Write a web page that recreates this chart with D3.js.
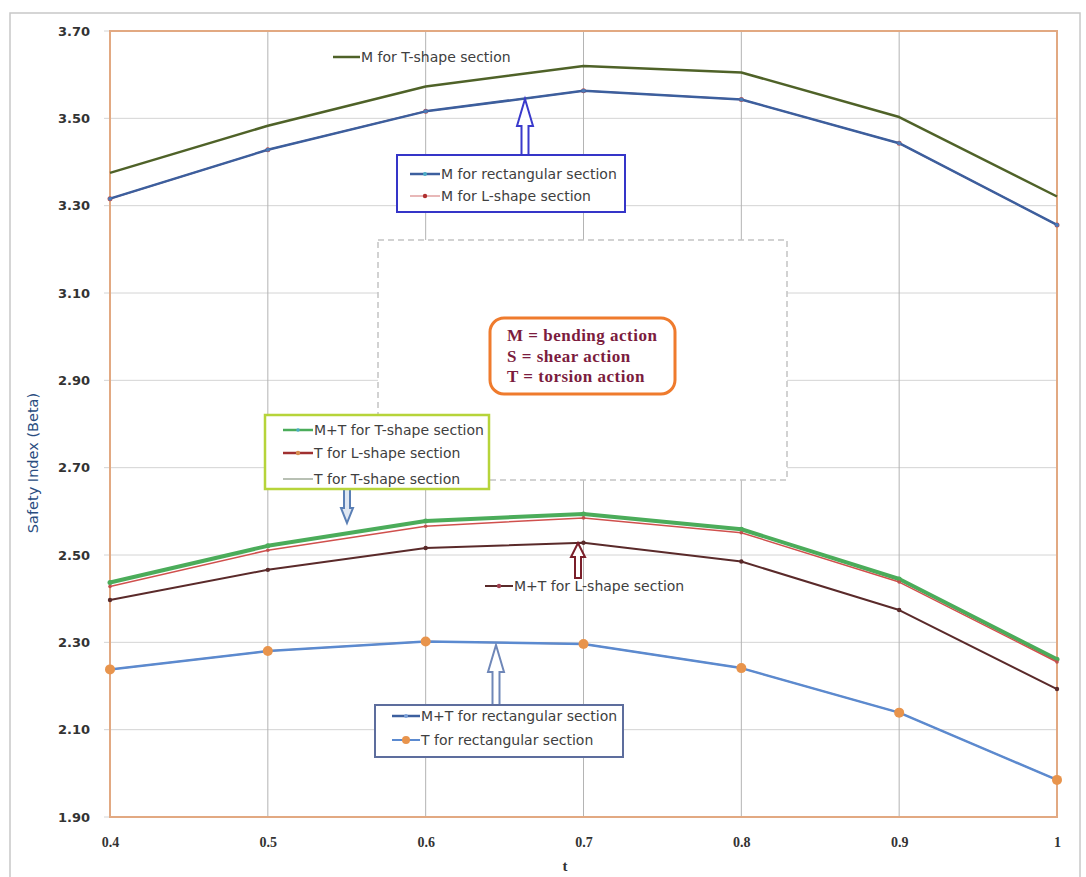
<!DOCTYPE html>
<html><head><meta charset="utf-8">
<script src="https://cdn.jsdelivr.net/npm/d3@7"></script>
<style>body{margin:0;background:#fff}svg{display:block}</style>
</head><body><svg id="c" width="1086" height="877"></svg>
<script>
const tValues = [0.4, 0.5, 0.6, 0.7, 0.8, 0.9, 1.0];
const xTickLabels = ["0.4","0.5","0.6","0.7","0.8","0.9","1"];
const yTicks = [1.9, 2.1, 2.3, 2.5, 2.7, 2.9, 3.1, 3.3, 3.5, 3.7];
const mTShape      = [3.375, 3.483, 3.573, 3.620, 3.605, 3.503, 3.321];
const mRect        = [3.316, 3.428, 3.516, 3.563, 3.543, 3.443, 3.256];
const mLShape      = [3.316, 3.428, 3.516, 3.563, 3.543, 3.443, 3.256];
const mtTShape     = [2.437, 2.521, 2.578, 2.594, 2.559, 2.445, 2.261];
const tLShape      = [2.428, 2.511, 2.566, 2.585, 2.551, 2.438, 2.255];
const tTShape      = [2.437, 2.521, 2.578, 2.594, 2.559, 2.445, 2.261];
const mtLShape     = [2.397, 2.466, 2.516, 2.528, 2.485, 2.374, 2.193];
const mtRect       = [2.238, 2.280, 2.302, 2.296, 2.241, 2.139, 1.985];
const tRect        = [2.238, 2.280, 2.302, 2.296, 2.241, 2.139, 1.985];

const svg = d3.select("#c");
const L=110, R=1057, T=31, B=817;
const x = d3.scaleLinear().domain([0.4,1.0]).range([L,R]);
const y = d3.scaleLinear().domain([1.9,3.7]).range([B,T]);

// outer frame
svg.append("rect").attr("x",10).attr("y",13).attr("width",1070).attr("height",880)
  .attr("fill","#fff").attr("stroke","#c8c8c8").attr("stroke-width",1.5);

// grid
svg.append("g").selectAll("line").data(yTicks).join("line")
  .attr("x1",L-6).attr("x2",R).attr("y1",d=>y(d)).attr("y2",d=>y(d))
  .attr("stroke","#d4d4d4").attr("stroke-width",1);
svg.append("g").selectAll("line").data(tValues).join("line")
  .attr("x1",d=>x(d)).attr("x2",d=>x(d)).attr("y1",T).attr("y2",B)
  .attr("stroke","#b4b4b4").attr("stroke-width",1);

// axes labels
const yAxis = d3.axisLeft(y).tickValues(yTicks).tickFormat(d3.format(".2f")).tickSize(0).tickPadding(20);
const gy = svg.append("g").attr("transform",`translate(${L},0)`).call(yAxis);
gy.select(".domain").remove();
gy.selectAll("text").attr("font-family","DejaVu Sans, Verdana, sans-serif").attr("font-weight","bold")
  .attr("font-size","13px").attr("fill","#333");
const xAxis = d3.axisBottom(x).tickValues(tValues).tickFormat((d,i)=>xTickLabels[i]).tickSize(0).tickPadding(20);
const gx = svg.append("g").attr("transform",`translate(0,${B})`).call(xAxis);
gx.select(".domain").remove();
gx.selectAll("text").attr("font-family","Liberation Serif, Times New Roman, serif").attr("font-weight","bold")
  .attr("font-size","14px").attr("fill","#333");

svg.append("text").attr("x",565).attr("y",871).attr("text-anchor","middle")
  .attr("font-family","Liberation Serif, serif").attr("font-weight","bold").attr("font-size","15px").attr("fill","#333").text("t");
svg.append("text").attr("transform","translate(38,463) rotate(-90)").attr("text-anchor","middle")
  .attr("font-family","DejaVu Sans, Verdana, sans-serif").attr("font-size","14.5px").attr("fill","#2a4d7f").text("Safety Index (Beta)");

// plot border
svg.append("rect").attr("x",L).attr("y",T).attr("width",R-L).attr("height",B-T)
  .attr("fill","none").attr("stroke","#e2a982").attr("stroke-width",2);

// dashed text box
svg.append("rect").attr("x",378).attr("y",240).attr("width",409).attr("height",240)
  .attr("fill","#fff").attr("stroke","#c4c4c4").attr("stroke-width",1.5).attr("stroke-dasharray","6,4");

const line = d3.line().x((d,i)=>x(tValues[i])).y(d=>y(d));
function series(vals, color, w, marker, mr, mcolor){
  svg.append("path").datum(vals).attr("d",line).attr("fill","none").attr("stroke",color)
    .attr("stroke-width",w).attr("stroke-linejoin","round");
  if(marker){
    svg.append("g").selectAll("circle").data(vals).join("circle")
      .attr("cx",(d,i)=>x(tValues[i])).attr("cy",d=>y(d)).attr("r",mr).attr("fill",mcolor||color);
  }
}
series(mLShape, "#c0504d", 1.5, true, 2.5);
series(mRect, "#3c5f9e", 2.5, true, 2, "#4a7ab8");
series(mTShape, "#4f6228", 2.5, false);
series(tTShape, "#b8c8b0", 1.5, false);
series(mtTShape, "#4bac5a", 4, true, 2.5);
series(tLShape, "#d0504d", 1.5, true, 1.8, "#c0504d");
series(mtLShape, "#5a2a2a", 2, true, 2.2);
series(tRect, "#f79646", 1.5, false);
series(mtRect, "#5b8ad0", 2.5, false);
svg.append("g").selectAll("circle").data(tRect).join("circle")
  .attr("cx",(d,i)=>x(tValues[i])).attr("cy",d=>y(d)).attr("r",5).attr("fill","#e8944c");

// arrows
function arrow(cx, tail, tip, color, sh, hh, hl, fill){
  const dir = tip < tail ? 1 : -1; // 1 = pointing up
  const hb = tip + dir*hl;
  const p = [[cx,tip],[cx+hh,hb],[cx+sh,hb],[cx+sh,tail],[cx-sh,tail],[cx-sh,hb],[cx-hh,hb]];
  svg.append("path").attr("d","M"+p.map(q=>q.join(",")).join("L")+"Z")
    .attr("fill",fill||"#fff").attr("stroke",color).attr("stroke-width",2).attr("stroke-linejoin","miter");
}
arrow(525,155,99,"#3a3acc",3.5,8,27);
arrow(347,489,523,"#5a7fb5",3,6,15,"#dfe7f2");
arrow(578,578,543,"#7a1f2a",3,7,14);
arrow(496,705,645,"#6f87b8",3.5,8,27);

const txtFont = "DejaVu Sans, Verdana, sans-serif";
function legendEntry(x1,x2,yy,color,w,label,mcolor,mr){
  svg.append("line").attr("x1",x1).attr("x2",x2).attr("y1",yy).attr("y2",yy).attr("stroke",color).attr("stroke-width",w);
  if(mcolor) svg.append("circle").attr("cx",(x1+x2)/2).attr("cy",yy).attr("r",mr||2.5).attr("fill",mcolor);
  svg.append("text").attr("x",x2+1).attr("y",yy+5).attr("font-family",txtFont).attr("font-size","14px")
    .attr("fill","#404040").text(label);
}
// legend: M for T-shape
legendEntry(333,360,57,"#4f6228",2.5,"M for T-shape section");
// blue box
svg.append("rect").attr("x",397).attr("y",155).attr("width",228).attr("height",57)
  .attr("fill","#fff").attr("stroke","#3535c8").attr("stroke-width",2);
legendEntry(410,440,174,"#3c5f9e",2.5,"M for rectangular section","#4bacc6",2);
legendEntry(410,440,196,"#e0a0a0",1.5,"M for L-shape section","#b03030",2.2);

// orange rounded box
svg.append("rect").attr("x",490).attr("y",318).attr("width",185).attr("height",76).attr("rx",14)
  .attr("fill","#fff").attr("stroke","#ef7b2d").attr("stroke-width",3);
const defs = ["M = bending action","S = shear action","T = torsion action"];
svg.append("g").selectAll("text").data(defs).join("text")
  .attr("x",507).attr("y",(d,i)=>341+i*20.5).attr("font-family","Liberation Serif, Times New Roman, serif")
  .attr("font-weight","bold").attr("font-size","17px").attr("letter-spacing","0.5px").attr("fill","#7b1c3e").text(d=>d);

// green box
svg.append("rect").attr("x",265).attr("y",415).attr("width",224).attr("height",74)
  .attr("fill","#fff").attr("stroke","#b6d43a").attr("stroke-width",2.5);
legendEntry(283,313,430,"#4bac5a",2.5,"M+T for T-shape section","#4bacc6",1.8);
legendEntry(283,313,453,"#a03030",2.5,"T for L-shape section","#d89050",2.2);
legendEntry(283,313,479,"#b8c0b4",2,"T for T-shape section");

// M+T L-shape legend
legendEntry(485,513,586,"#5a2a2a",2,"M+T for L-shape section","#a04050",2.2);

// blue-gray box
svg.append("rect").attr("x",375).attr("y",705).attr("width",248).attr("height",52)
  .attr("fill","#fff").attr("stroke","#5d6d9d").attr("stroke-width",2);
legendEntry(392,420,716,"#3c5f9e",2.5,"M+T for rectangular section","#7aa0d8",2);
legendEntry(392,420,740,"#5b8ad0",2,"T for rectangular section","#e8944c",4);
</script></body></html>
